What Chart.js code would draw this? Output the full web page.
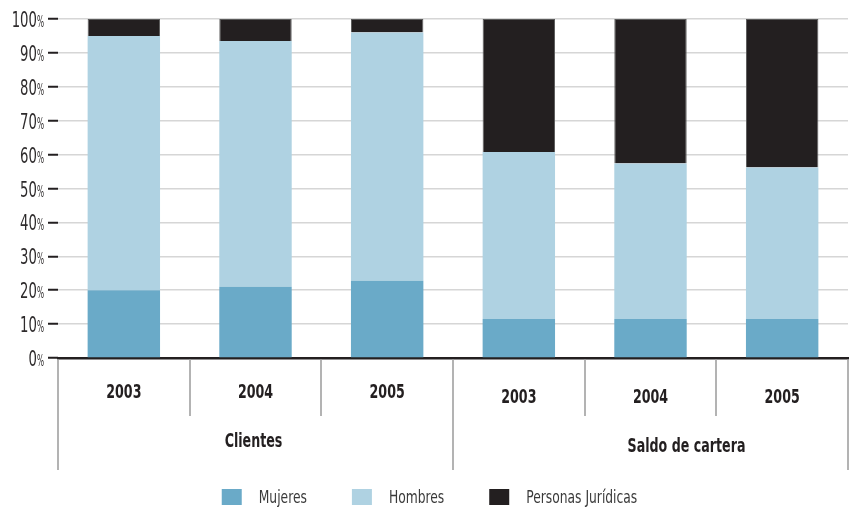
<!DOCTYPE html>
<html>
<head>
<meta charset="utf-8">
<script src="https://cdn.jsdelivr.net/npm/chart.js@4/dist/chart.umd.min.js"></script>
<style>
  html,body{margin:0;padding:0;background:#fff;}
  #wrap{width:849px;height:508px;position:relative;}
</style>
</head>
<body>
<div id="wrap"><canvas id="chart"></canvas></div>
<script>
const FONT = '"Liberation Sans Narrow","DejaVu Sans Condensed","Liberation Sans",sans-serif';
const INK = '#231f20';

// categories: year under each bar, group name under each block of three
const years = ['2003','2004','2005','2003','2004','2005'];
const groups = ['Clientes','Saldo de cartera'];
const groupSize = 3;
const yTicks = [0,10,20,30,40,50,60,70,80,90,100];

// shares in percent, stacked bottom to top
const mujeres = [20, 21, 22.8, 11.5, 11.5, 11.5];
const hombres = [75, 72.5, 73.2, 49.3, 45.9, 44.7];
const juridicas = [5, 6.5, 4, 39.2, 42.6, 43.8];

const seriesNames = ['Mujeres','Hombres','Personas Jurídicas'];
const seriesColors = ['#6aaac8','#afd2e2','#231f20'];

// text squeezed horizontally, the installed fonts are wider than the original face
function narrowText(ctx, text, x, y, align, sx){
  ctx.save();
  ctx.translate(x, y);
  ctx.scale(sx, 1);
  ctx.textAlign = align;
  ctx.fillText(text, 0, 0);
  ctx.restore();
}
function narrowWidth(ctx, text, sx){ return ctx.measureText(text).width * sx; }

// draws y labels, the two-level category axis and the legend
const axisLabels = {
  id: 'axisLabels',
  afterDraw(chart){
    const {ctx, chartArea, scales} = chart;
    const x = scales.x, y = scales.y;
    const y0 = chartArea.bottom;
    const n = years.length;
    const step = x.getPixelForValue(1) - x.getPixelForValue(0);
    ctx.save();
    ctx.fillStyle = '#2e2b2c';

    // y labels: number plus a narrow percent sign
    ctx.textBaseline = 'alphabetic';
    yTicks.forEach(v=>{
      const py = y.getPixelForValue(v) + 8;
      ctx.font = '15px ' + FONT;
      const pw = narrowWidth(ctx, '%', 0.55);
      narrowText(ctx, '%', 44, py, 'right', 0.55);
      ctx.font = '21px ' + FONT;
      narrowText(ctx, String(v), 44 - pw, py, 'right', 0.7);
    });

    ctx.textBaseline = 'middle';
    // dividers
    ctx.strokeStyle = '#9a9a9a';
    ctx.lineWidth = 1.5;
    for(let i=0;i<=n;i++){
      const px = Math.round(x.getPixelForValue(0) - step/2 + i*step);
      const long = i % groupSize === 0;
      ctx.beginPath();
      ctx.moveTo(px, y0+1);
      ctx.lineTo(px, y0 + (long ? 112 : 58));
      ctx.stroke();
    }
    // years
    ctx.fillStyle = INK;
    ctx.font = 'bold 19px ' + FONT;
    years.forEach((yr,i)=>{
      const g = Math.floor(i/groupSize);
      narrowText(ctx, yr, x.getPixelForValue(i), y0 + (g ? 40 : 35), 'center', 0.74);
    });
    // group names
    const shift = [-2, 36];
    groups.forEach((name,g)=>{
      const a = x.getPixelForValue(g*groupSize), b = x.getPixelForValue(g*groupSize+groupSize-1);
      narrowText(ctx, name, (a+b)/2 + shift[g], y0 + (g ? 89 : 84), 'center', 0.74);
    });
    // legend
    ctx.font = '18px ' + FONT;
    const box = 20, gap = 17, sep = 45, sx = 0.76;
    const widths = seriesNames.map(s=>narrowWidth(ctx, s, sx));
    const total = widths.reduce((s,w)=>s+w,0) + seriesNames.length*(box+gap) + (seriesNames.length-1)*sep;
    let lx = chart.width/2 - total/2 + 5;
    const ly = 497;
    seriesNames.forEach((s,i)=>{
      ctx.fillStyle = seriesColors[i];
      ctx.fillRect(lx, ly-8, box, 16);
      ctx.fillStyle = '#3a3a3a';
      narrowText(ctx, s, lx+box+gap, ly+1, 'left', sx);
      lx += box + gap + widths[i] + sep;
    });
    ctx.restore();
  }
};

const data = {
  labels: years.map((y,i)=>i),
  datasets: [mujeres, hombres, juridicas].map((vals,i)=>({
    label: seriesNames[i],
    data: vals,
    backgroundColor: seriesColors[i],
    borderWidth: i===2 ? 1 : 0,
    borderColor: '#5a5a5a',
    barPercentage: 0.55,
    categoryPercentage: 1
  }))
};

new Chart(document.getElementById('chart'), {
  type: 'bar',
  data: data,
  plugins: [axisLabels],
  options: {
    responsive: true,
    maintainAspectRatio: false,
    animation: false,
    layout: {padding: {top: 19, right: 1, left: 0, bottom: 0}},
    plugins: {legend: {display: false}, tooltip: {enabled: false}},
    scales: {
      x: {
        stacked: true,
        grid: {display: false},
        border: {display: true, color: INK, width: 2.5},
        ticks: {display: false},
        afterFit(scale){ scale.height = 150; }
      },
      y: {
        stacked: true,
        min: 0, max: 100,
        ticks: {stepSize: 10, display: false},
        grid: {
          color: '#d6d6d6',
          lineWidth: 1.5,
          drawTicks: true,
          tickLength: 10,
          tickColor: INK,
          tickWidth: 2
        },
        border: {display: false},
        afterFit(scale){ scale.width = 58; }
      }
    }
  }
});
</script>
</body>
</html>
